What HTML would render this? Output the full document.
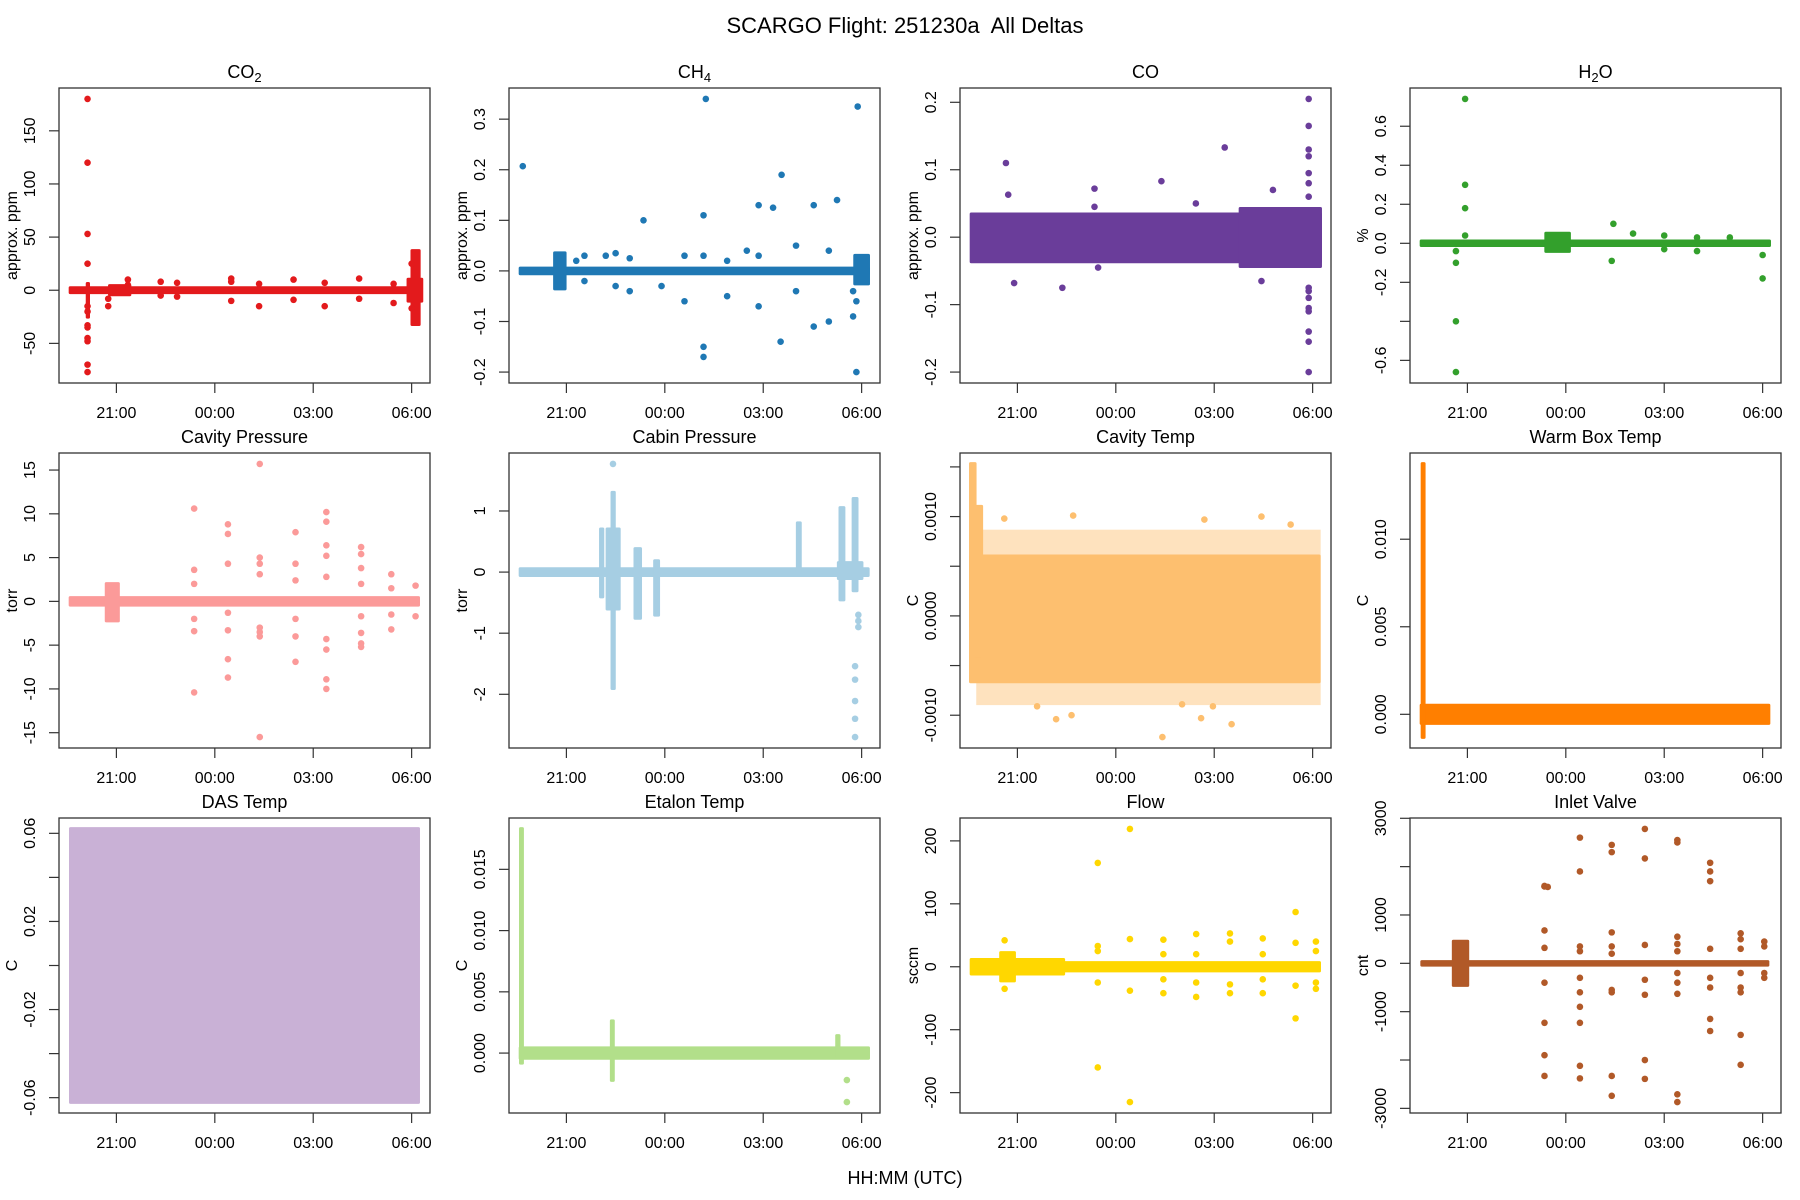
<!DOCTYPE html>
<html><head><meta charset="utf-8"><style>
html,body{margin:0;padding:0;background:#fff;}
svg{display:block;font-family:"Liberation Sans",sans-serif;}
</style></head><body>
<svg id="fig" width="1800" height="1200" viewBox="0 0 1800 1200">
<text x="905" y="33" font-size="22" text-anchor="middle" fill="#000" style="white-space:pre">SCARGO Flight: 251230a&#160; All Deltas</text>
<text x="905" y="1184" font-size="18" text-anchor="middle" fill="#000">HH:MM (UTC)</text>
</svg>
<script>
// time in hours since 21:00 UTC
const xTickValues = [0, 3, 6, 9];
const xTickLabels = ["21:00", "00:00", "03:00", "06:00"];

// ---- CO2 ----
const co2Bands = [[-1.4,9.2,-2,2],[-0.88,-0.86,-25,6],[-0.2,0.4,-4,4],[9.02,9.22,-32,37],[8.9,9.3,-10,10]];
const co2Spikes = [[-0.88,[180,120,53,25,-15,-20,-33,-35,-45,-48,-70,-77]],[-0.25,[-15,-8]],[0.35,[10,5]],[1.35,[8,-5]],[1.85,[7,-6]],[3.5,[11,8,-10]],[4.35,[6,-15]],[5.4,[10,-9]],[6.35,[7,-15]],[7.4,[11,-8]],[8.45,[6,-12]],[9.0,[25,-17]]];
const co2Ticks = [-50,0,50,100,150];
const co2TickLabels = ["-50","0","50","100","150"];
// ---- CH4 ----
const ch4Bands = [[-1.4,9.2,-0.005,0.005],[-0.35,-0.05,-0.035,0.035],[8.8,9.2,-0.025,0.03]];
const ch4Spikes = [[-1.33,[0.207]],[0.3,[0.02]],[0.55,[0.03,-0.02]],[1.2,[0.03]],[1.5,[0.035,-0.03]],[1.93,[-0.04,0.025]],[2.35,[0.1]],[2.9,[-0.03]],[3.6,[-0.06,0.03]],[4.18,[0.11,-0.15,-0.17,0.03]],[4.25,[0.34]],[4.9,[0.02,-0.05]],[5.5,[0.04]],[5.86,[0.13,-0.07,0.03]],[6.3,[0.125]],[6.53,[-0.14]],[6.56,[0.19]],[7.0,[0.05,-0.04]],[7.54,[-0.11,0.13]],[8.0,[-0.1,0.04]],[8.25,[0.14]],[8.74,[-0.09,-0.04]],[8.84,[-0.2,-0.06]],[8.88,[0.325]]];
const ch4Ticks = [-0.2,-0.1,0,0.1,0.2,0.3];
const ch4TickLabels = ["-0.2","-0.1","0.0","0.1","0.2","0.3"];
// ---- CO ----
const coBands = [[-1.4,9.23,-0.036,0.034],[6.8,9.23,-0.043,0.042]];
const coSpikes = [[-0.35,[0.11]],[-0.28,[0.063]],[-0.1,[-0.068]],[1.37,[-0.075]],[2.35,[0.072,0.045]],[2.46,[-0.045]],[4.39,[0.083]],[5.44,[0.05]],[6.32,[0.133]],[7.44,[-0.065]],[7.79,[0.07]],[8.88,[0.205,0.165,0.13,0.12,0.095,0.08,0.06,-0.075,-0.08,-0.09,-0.105,-0.11,-0.14,-0.155,-0.2]]];
const coTicks = [-0.2,-0.1,0,0.1,0.2];
const coTickLabels = ["-0.2","-0.1","0.0","0.1","0.2"];
// ---- H2O ----
const h2oBands = [[-1.4,9.2,-0.01,0.01],[2.4,3.1,-0.04,0.05]];
const h2oSpikes = [[-0.07,[0.74,0.3,0.18,0.04]],[-0.35,[-0.04,-0.1,-0.4,-0.66]],[4.45,[0.1]],[4.4,[-0.09]],[5.05,[0.05]],[6.0,[0.04,-0.03]],[7.0,[0.03,-0.04]],[8.0,[0.03]],[9.0,[-0.06,-0.18]]];
const h2oTicks = [-0.6,-0.4,-0.2,0,0.2,0.4,0.6];
const h2oTickLabels = ["-0.6","","-0.2","0.0","0.2","0.4","0.6"];
// ---- Cavity Pressure ----
const cavpBands = [[-1.4,9.2,-0.4,0.4],[-0.3,0.05,-2.2,2]];
const cavpSpikes = [[2.37,[10.6,3.6,2,-2,-3.4,-10.4]],[3.4,[8.8,7.7,4.3,-1.3,-3.3,-6.6,-8.7]],[4.37,[15.7,5,4.3,3.1,-3,-3.5,-4,-15.5]],[5.46,[7.9,4.3,2.4,-2,-4,-6.9]],[6.4,[10.2,9.1,6.4,5.2,2.8,-4.3,-5.5,-8.9,-10]],[7.46,[6.2,5.4,3.8,2,-1.7,-3.6,-4.8,-5.2]],[8.38,[3.1,1.5,-1.5,-3.2]],[9.12,[1.8,-1.7]]];
const cavpTicks = [-15,-10,-5,0,5,10,15];
const cavpTickLabels = ["-15","-10","-5","0","5","10","15"];
// ---- Cabin Pressure ----
const cabBands = [[-1.4,9.19,-0.05,0.05],[1.05,1.1,-0.4,0.7],[1.25,1.6,-0.6,0.7],[1.4,1.45,-1.9,1.3],[2.1,2.25,-0.75,0.38],[2.7,2.8,-0.7,0.18],[7.05,7.12,0,0.8],[8.35,8.45,-0.45,1.05],[8.75,8.85,-0.3,1.2],[8.3,9.0,-0.1,0.15]];
const cabSpikes = [[1.42,[1.77]],[8.8,[-1.54,-1.76,-2.11,-2.4,-2.7]],[8.9,[-0.7,-0.8,-0.9]]];
const cabTicks = [-2,-1,0,1];
const cabTickLabels = ["-2","-1","0","1"];
// ---- Cavity Temp ----
const cavtBands = [[-1.42,9.19,-0.00066,0.0006],[-1.42,-1.3,-0.0001,0.00153],[-1.3,-1.1,-0.0004,0.0011]];
const cavtOuterBands = [[-1.2,9.19,-0.00088,0.00085]];
const cavtSpikes = [[-0.4,[0.00098]],[1.7,[0.00101]],[5.7,[0.00097]],[7.44,[0.001]],[8.33,[0.00092]],[1.18,[-0.00104]],[1.65,[-0.001]],[4.42,[-0.00122]],[5.6,[-0.00103]],[6.53,[-0.00109]],[0.6,[-0.00091]],[5.02,[-0.00089]],[5.96,[-0.00091]]];
const cavtTicks = [-0.001,-0.0005,0,0.0005,0.001,0.0015];
const cavtTickLabels = ["-0.0010","","0.0000","","0.0010",""];
// ---- Warm Box Temp ----
const wbBands = [[-1.4,9.18,-0.0005,0.0005],[-1.37,-1.33,-0.0013,0.0143]];
const wbSpikes = [];
const wbTicks = [0,0.005,0.01];
const wbTickLabels = ["0.000","0.005","0.010"];
// ---- DAS Temp ----
const dasBands = [[-1.39,9.2,-0.062,0.062]];
const dasSpikes = [];
const dasTicks = [-0.06,-0.04,-0.02,0,0.02,0.04,0.06];
const dasTickLabels = ["-0.06","","-0.02","","0.02","","0.06"];
// ---- Etalon Temp ----
const etBands = [[-1.4,9.2,-0.0004,0.0004],[-1.39,-1.35,-0.0008,0.0183],[1.38,1.42,-0.0022,0.0026],[8.25,8.3,-0.0003,0.0014]];
const etSpikes = [[8.55,[-0.0022,-0.004]]];
const etTicks = [0,0.005,0.01,0.015];
const etTickLabels = ["0.000","0.005","0.010","0.015"];
// ---- Flow ----
const flowBands = [[-1.4,1.4,-11,11],[1.4,9.2,-6,6],[-0.5,-0.1,-22,22]];
const flowSpikes = [[-0.39,[42,-35]],[2.45,[165,33,25,-25,-160]],[3.43,[219,44,-38,-215]],[4.45,[43,20,-20,-42]],[5.45,[52,20,-25,-48]],[6.48,[53,40,-28,-42]],[7.48,[45,20,-20,-42]],[8.48,[87,38,-30,-82]],[9.1,[40,25,-25,-35]]];
const flowTicks = [-200,-100,0,100,200];
const flowTickLabels = ["-200","-100","0","100","200"];
// ---- Inlet Valve ----
const ivBands = [[-1.38,9.15,-30,30],[-0.42,0,-450,450]];
const ivSpikes = [[2.35,[680,1590,1600,320,-400,-1230,-1900,-2330]],[2.45,[1580]],[3.43,[2600,1900,350,250,-300,-600,-900,-1230,-2120,-2380]],[4.4,[2450,2300,640,350,200,-600,-550,-2330,-2740]],[5.41,[2780,2170,380,-340,-650,-2000,-2390]],[6.4,[2550,2500,550,400,250,-200,-400,-630,-2710,-2870]],[7.4,[2080,1900,1700,300,-300,-500,-1150,-1400]],[8.33,[620,500,300,-200,-500,-600,-1480,-2100]],[9.05,[450,350,-200,-300]]];
const ivTicks = [-3000,-2000,-1000,0,1000,2000,3000];
const ivTickLabels = ["-3000","","-1000","0","1000","","3000"];

const NS = "http://www.w3.org/2000/svg";
const svg = document.getElementById('fig');
const X_MIN = -1.75, X_MAX = 9.56;
const PW = 371, PH = 295;
const lefts = [59, 509, 960, 1410];
const tops = [88, 453, 818];

function mk(tag, attrs, parent) {
  const e = document.createElementNS(NS, tag);
  for (const k in attrs) e.setAttribute(k, attrs[k]);
  parent.appendChild(e);
  return e;
}

const panels = [
  {key:'co2', title:'CO', sub:'2', ylab:'approx. ppm', color:'#E31A1C', bands:co2Bands, spikes:co2Spikes, ticks:co2Ticks, labels:co2TickLabels},
  {key:'ch4', title:'CH', sub:'4', ylab:'approx. ppm', color:'#1F78B4', bands:ch4Bands, spikes:ch4Spikes, ticks:ch4Ticks, labels:ch4TickLabels},
  {key:'co', title:'CO', sub:'', ylab:'approx. ppm', color:'#6A3D9A', bands:coBands, spikes:coSpikes, ticks:coTicks, labels:coTickLabels},
  {key:'h2o', title:'H', sub:'2', after:'O', ylab:'%', color:'#33A02C', bands:h2oBands, spikes:h2oSpikes, ticks:h2oTicks, labels:h2oTickLabels},
  {key:'cavity-pressure', title:'Cavity Pressure', sub:'', ylab:'torr', color:'#FB9A99', bands:cavpBands, spikes:cavpSpikes, ticks:cavpTicks, labels:cavpTickLabels},
  {key:'cabin-pressure', title:'Cabin Pressure', sub:'', ylab:'torr', color:'#A6CEE3', bands:cabBands, spikes:cabSpikes, ticks:cabTicks, labels:cabTickLabels},
  {key:'cavity-temp', title:'Cavity Temp', sub:'', ylab:'C', color:'#FDBF6F', bands:cavtBands, outer:cavtOuterBands, spikes:cavtSpikes, ticks:cavtTicks, labels:cavtTickLabels},
  {key:'warm-box-temp', title:'Warm Box Temp', sub:'', ylab:'C', color:'#FF7F00', bands:wbBands, spikes:wbSpikes, ticks:wbTicks, labels:wbTickLabels},
  {key:'das-temp', title:'DAS Temp', sub:'', ylab:'C', color:'#C9B1D6', bands:dasBands, spikes:dasSpikes, ticks:dasTicks, labels:dasTickLabels},
  {key:'etalon-temp', title:'Etalon Temp', sub:'', ylab:'C', color:'#B2DF8A', bands:etBands, spikes:etSpikes, ticks:etTicks, labels:etTickLabels},
  {key:'flow', title:'Flow', sub:'', ylab:'sccm', color:'#FFD700', bands:flowBands, spikes:flowSpikes, ticks:flowTicks, labels:flowTickLabels},
  {key:'inlet-valve', title:'Inlet Valve', sub:'', ylab:'cnt', color:'#B15928', bands:ivBands, spikes:ivSpikes, ticks:ivTicks, labels:ivTickLabels}
];

panels.forEach((p, i) => {
  const L = lefts[i % 4], T = tops[Math.floor(i / 4)];
  let lo = Infinity, hi = -Infinity;
  p.bands.forEach(b => { lo = Math.min(lo, b[2]); hi = Math.max(hi, b[3]); });
  p.spikes.forEach(s => s[1].forEach(v => { lo = Math.min(lo, v); hi = Math.max(hi, v); }));
  const r = hi - lo; const yMin = lo - 0.04 * r, yMax = hi + 0.04 * r;
  const xs = t => L + (t - X_MIN) / (X_MAX - X_MIN) * PW;
  const ys = v => T + PH - (v - yMin) / (yMax - yMin) * PH;

  const g = mk('g', {}, svg);
  
  

  const clip = mk('clipPath', {id: 'clip' + i}, g);
  mk('rect', {x: L, y: T, width: PW, height: PH}, clip);
  const marks = mk('g', {'clip-path': 'url(#clip' + i + ')', fill: p.color}, g);
  
  
  const R = 3.3, B = 1.8;
  (p.outer || []).forEach(b => {
    const el = mk('rect', {x: xs(b[0]) - B, y: ys(b[3]) - B, width: xs(b[1]) - xs(b[0]) + 2 * B, height: ys(b[2]) - ys(b[3]) + 2 * B, 'fill-opacity': 0.45}, marks);
    
    
  });
  p.bands.forEach(b => {
    const el = mk('rect', {x: xs(b[0]) - B, y: ys(b[3]) - B, width: xs(b[1]) - xs(b[0]) + 2 * B, height: ys(b[2]) - ys(b[3]) + 2 * B, rx: 1.5}, marks);
    
    
  });
  p.spikes.forEach(s => s[1].forEach(v => {
    const c = mk('circle', {cx: xs(s[0]), cy: ys(v), r: R}, marks);
    
    
  }));

  const box = mk('rect', {x: L, y: T, width: PW, height: PH, fill: 'none', stroke: '#333', 'stroke-width': 1.3}, g);
  
  

  const xa = mk('g', {}, g);
  
  
  xTickValues.forEach((t, k) => {
    const x = xs(t);
    mk('line', {x1: x, y1: T + PH, x2: x, y2: T + PH + 10, stroke: '#333', 'stroke-width': 1.2}, xa);
    const tx = mk('text', {x: x, y: T + PH + 35, 'font-size': 16, 'text-anchor': 'middle', fill: '#000'}, xa);
    tx.textContent = xTickLabels[k];
    
    
  });
  const ya = mk('g', {}, g);
  
  
  p.ticks.forEach((v, k) => {
    const y = ys(v);
    mk('line', {x1: L - 10, y1: y, x2: L, y2: y, stroke: '#333', 'stroke-width': 1.2}, ya);
    if (p.labels[k]) {
      const tx = mk('text', {x: L - 24, y: y, 'font-size': 16, 'text-anchor': 'middle', fill: '#000', transform: 'rotate(-90 ' + (L - 24) + ' ' + y + ')'}, ya);
      tx.textContent = p.labels[k];
      
      
    }
  });
  const yt = mk('text', {x: L - 42, y: T + PH / 2, 'font-size': 16, 'text-anchor': 'middle', fill: '#000', transform: 'rotate(-90 ' + (L - 42) + ' ' + (T + PH / 2) + ')'}, g);
  yt.textContent = p.ylab;
  
  

  const tt = mk('text', {x: L + PW / 2, y: T - 10, 'font-size': 18, 'text-anchor': 'middle', fill: '#000'}, g);
  
  
  tt.appendChild(document.createTextNode(p.title));
  if (p.sub) {
    const s = mk('tspan', {'font-size': 13, dy: 4}, tt);
    s.textContent = p.sub;
    if (p.after) {
      const a = mk('tspan', {dy: -4}, tt);
      a.textContent = p.after;
    }
  }
});
</script>
</body></html>
